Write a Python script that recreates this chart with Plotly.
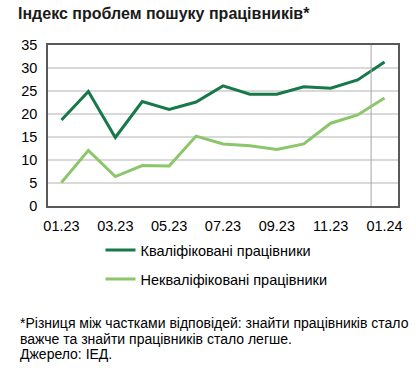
import plotly.graph_objects as go

categories = ["01.23", "02.23", "03.23", "04.23", "05.23", "06.23", "07.23",
              "08.23", "09.23", "10.23", "11.23", "12.23", "01.24"]
skilled = [18.7, 24.9, 14.9, 22.7, 21.0, 22.6, 26.1, 24.3, 24.3, 25.9, 25.6, 27.4, 31.3]
unskilled = [5.1, 12.1, 6.4, 8.8, 8.7, 15.2, 13.5, 13.1, 12.3, 13.5, 18.0, 19.8, 23.5]
tick_labels = ["01.23", "03.23", "05.23", "07.23", "09.23", "11.23", "01.24"]
y_ticks = [0, 5, 10, 15, 20, 25, 30, 35]

FONT = "Liberation Sans, Arial, sans-serif"

fig = go.Figure()
fig.add_trace(go.Scatter(x=categories, y=skilled, mode="lines",
                         name="Кваліфіковані працівники", legendgroup="a",
                         line=dict(color="#17784a", width=3)))
fig.add_trace(go.Scatter(x=categories, y=unskilled, mode="lines",
                         name="Некваліфіковані працівники", legendgroup="b",
                         line=dict(color="#8cc66a", width=3)))

fig.add_shape(type="line", xref="x", yref="paper", x0=11.5, x1=11.5, y0=0, y1=1,
              line=dict(color="#a6a6a6", width=1))

fig.update_layout(
    width=416, height=373,
    margin=dict(l=48, r=18, t=45, b=167, autoexpand=False),
    paper_bgcolor="white", plot_bgcolor="white",
    font=dict(family=FONT, size=14.5, color="#000000"),
    title=dict(text="<b>Індекс проблем пошуку працівників*</b>",
               x=18/416, xanchor="left", y=1-13/373, yanchor="middle",
               font=dict(size=16, family=FONT, color="#1a1a1a")),
    showlegend=True,
    legend=dict(x=0.15, y=-0.175, xanchor="left", yanchor="top",
                tracegroupgap=7, font=dict(size=14.5, family=FONT),
                bgcolor="rgba(0,0,0,0)"),
    xaxis=dict(type="category", categoryorder="array", categoryarray=categories,
               range=[-0.5, 12.5], tickmode="array",
               tickvals=tick_labels, ticktext=tick_labels,
               showgrid=False, showline=True, mirror=True,
               linecolor="#595959", linewidth=1.5, ticks="",
               ticklabelstandoff=6, tickfont=dict(size=14.5, family=FONT)),
    yaxis=dict(range=[0, 35], tickmode="array", tickvals=y_ticks,
               showgrid=True, gridcolor="#d9d9d9", gridwidth=1.5,
               showline=True, mirror=True, linecolor="#595959", linewidth=1.5,
               ticks="", zeroline=False, ticklabelstandoff=6,
               tickfont=dict(size=14.5, family=FONT)),
)

notes = [
    ("*Різниця між частками відповідей: знайти працівників стало", 323),
    ("важче та знайти працівників стало легше.", 339),
    ("Джерело: ІЕД.", 354),
]
for txt, ypx in notes:
    fig.add_annotation(text=txt, xref="paper", yref="paper",
                       x=(18-48)/350, y=(206-ypx)/161,
                       xanchor="left", yanchor="middle", showarrow=False,
                       font=dict(size=14, family=FONT, color="#000000"))

fig.write_html("out.html", config={"displayModeBar": False},
               post_script="document.body.style.margin='0';document.body.style.overflow='hidden';")
